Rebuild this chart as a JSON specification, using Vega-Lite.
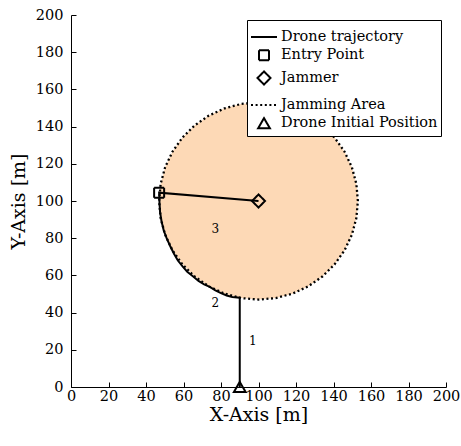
{
  "$schema": "https://vega.github.io/schema/vega-lite/v6.json",
  "width": 375,
  "height": 372,
  "autosize": {"type": "none"},
  "padding": {"left": 71, "top": 15, "right": 15, "bottom": 59},
  "background": "white",
  "config": {
    "font": "DejaVu Serif",
    "view": {"stroke": null},
    "axis": {
      "domainColor": "black", "tickColor": "black", "labelColor": "black", "titleColor": "black",
      "grid": false, "labelFont": "DejaVu Serif", "titleFont": "DejaVu Serif",
      "labelFontSize": 14.5, "titleFontSize": 19, "titleFontWeight": "normal",
      "tickSize": -5, "domainWidth": 1, "tickWidth": 1, "labelOverlap": false, "labelBound": false, "labelFlush": false
    },
    "legend": {
      "labelFont": "DejaVu Serif", "labelFontSize": 14.5, "labelColor": "black", "labelLimit": 300
    }
  },
  "datasets": {
    "area": [
      {"x": 153, "y": 100, "y2v": 100},
      {"x": 152.8, "y": 104.62, "y2v": 95.38},
      {"x": 152.19, "y": 109.2, "y2v": 90.8},
      {"x": 149.8, "y": 118.13, "y2v": 81.87},
      {"x": 145.9, "y": 126.5, "y2v": 73.5},
      {"x": 140.6, "y": 134.07, "y2v": 65.93},
      {"x": 134.07, "y": 140.6, "y2v": 59.4},
      {"x": 126.5, "y": 145.9, "y2v": 54.1},
      {"x": 118.13, "y": 149.8, "y2v": 50.2},
      {"x": 109.2, "y": 152.19, "y2v": 47.81},
      {"x": 100, "y": 153, "y2v": 47},
      {"x": 90.8, "y": 152.19, "y2v": 47.81},
      {"x": 81.87, "y": 149.8, "y2v": 50.2},
      {"x": 73.5, "y": 145.9, "y2v": 54.1},
      {"x": 65.93, "y": 140.6, "y2v": 59.4},
      {"x": 59.4, "y": 134.07, "y2v": 65.93},
      {"x": 54.1, "y": 126.5, "y2v": 73.5},
      {"x": 50.2, "y": 118.13, "y2v": 81.87},
      {"x": 47.81, "y": 109.2, "y2v": 90.8},
      {"x": 47.2, "y": 104.62, "y2v": 95.38},
      {"x": 47, "y": 100, "y2v": 100}
    ],
    "ring": [
      {"i": 0, "x": 153, "y": 100},
      {"i": 1, "x": 152.19, "y": 109.2},
      {"i": 2, "x": 149.8, "y": 118.13},
      {"i": 3, "x": 145.9, "y": 126.5},
      {"i": 4, "x": 140.6, "y": 134.07},
      {"i": 5, "x": 134.07, "y": 140.6},
      {"i": 6, "x": 126.5, "y": 145.9},
      {"i": 7, "x": 118.13, "y": 149.8},
      {"i": 8, "x": 109.2, "y": 152.19},
      {"i": 9, "x": 100, "y": 153},
      {"i": 10, "x": 90.8, "y": 152.19},
      {"i": 11, "x": 81.87, "y": 149.8},
      {"i": 12, "x": 73.5, "y": 145.9},
      {"i": 13, "x": 65.93, "y": 140.6},
      {"i": 14, "x": 59.4, "y": 134.07},
      {"i": 15, "x": 54.1, "y": 126.5},
      {"i": 16, "x": 50.2, "y": 118.13},
      {"i": 17, "x": 47.81, "y": 109.2},
      {"i": 18, "x": 47, "y": 100},
      {"i": 19, "x": 47.81, "y": 90.8},
      {"i": 20, "x": 50.2, "y": 81.87},
      {"i": 21, "x": 54.1, "y": 73.5},
      {"i": 22, "x": 59.4, "y": 65.93},
      {"i": 23, "x": 65.93, "y": 59.4},
      {"i": 24, "x": 73.5, "y": 54.1},
      {"i": 25, "x": 81.87, "y": 50.2},
      {"i": 26, "x": 90.8, "y": 47.81},
      {"i": 27, "x": 100, "y": 47},
      {"i": 28, "x": 109.2, "y": 47.81},
      {"i": 29, "x": 118.13, "y": 50.2},
      {"i": 30, "x": 126.5, "y": 54.1},
      {"i": 31, "x": 134.07, "y": 59.4},
      {"i": 32, "x": 140.6, "y": 65.93},
      {"i": 33, "x": 145.9, "y": 73.5},
      {"i": 34, "x": 149.8, "y": 81.87},
      {"i": 35, "x": 152.19, "y": 90.8},
      {"i": 36, "x": 153, "y": 100}
    ],
    "traj": [
      {"i": 0, "x": 90, "y": 0},
      {"i": 1, "x": 90, "y": 48},
      {"i": 2, "x": 86, "y": 48.4},
      {"i": 3, "x": 83, "y": 49.2},
      {"i": 4, "x": 80, "y": 50.5},
      {"i": 5, "x": 77, "y": 52},
      {"i": 6, "x": 74, "y": 53.8},
      {"i": 7, "x": 71, "y": 55.2},
      {"i": 8, "x": 68, "y": 57},
      {"i": 9, "x": 65, "y": 59.5},
      {"i": 10, "x": 62, "y": 62},
      {"i": 11, "x": 59.5, "y": 64.8},
      {"i": 12, "x": 57, "y": 68},
      {"i": 13, "x": 55, "y": 71.5},
      {"i": 14, "x": 53, "y": 75.5},
      {"i": 15, "x": 51, "y": 80},
      {"i": 16, "x": 49.5, "y": 84},
      {"i": 17, "x": 48.3, "y": 89},
      {"i": 18, "x": 47.5, "y": 94},
      {"i": 19, "x": 47.2, "y": 99},
      {"i": 20, "x": 47, "y": 104.5},
      {"i": 21, "x": 100, "y": 100}
    ],
    "pts": [
      {"x": 47, "y": 104.5, "series": "Entry Point"},
      {"x": 100, "y": 100, "series": "Jammer"},
      {"x": 90, "y": 0, "series": "Drone Initial Position"}
    ],
    "labels": [
      {"x": 97, "y": 25, "label": "1"},
      {"x": 77, "y": 45, "label": "2"},
      {"x": 77, "y": 85, "label": "3"}
    ]
  },
  "encoding": {
    "x": {
      "field": "x", "type": "quantitative",
      "scale": {"domain": [0, 200], "nice": false, "zero": false},
      "axis": {"title": "X-Axis [m]", "values": [0,20,40,60,80,100,120,140,160,180,200], "labelPadding": 7, "titlePadding": 3}
    },
    "y": {
      "field": "y", "type": "quantitative",
      "scale": {"domain": [0, 200], "nice": false, "zero": false},
      "axis": {"title": "Y-Axis [m]", "values": [0,20,40,60,80,100,120,140,160,180,200], "labelPadding": 13, "titlePadding": 7}
    }
  },
  "layer": [
    {
      "data": {"name": "area"},
      "mark": {"type": "area", "color": "#fdd9b6", "opacity": 1},
      "encoding": {"y2": {"field": "y2v"}}
    },
    {
      "data": {"name": "ring"},
      "mark": {"type": "line", "color": "black", "strokeWidth": 2.3, "strokeDash": [2, 2.6]},
      "encoding": {"order": {"field": "i", "type": "quantitative"}}
    },
    {
      "data": {"name": "traj"},
      "mark": {"type": "line", "color": "black", "strokeWidth": 2},
      "encoding": {"order": {"field": "i", "type": "quantitative"}}
    },
    {
      "data": {"name": "pts"},
      "mark": {"type": "point", "filled": false, "color": "black", "strokeWidth": 2, "opacity": 1},
      "encoding": {
        "shape": {
          "field": "series", "type": "nominal",
          "scale": {
            "domain": ["Drone trajectory", "Entry Point", "Jammer", "Jamming Area", "Drone Initial Position"],
            "range": ["stroke", "square", "diamond", "stroke", "triangle-up"]
          },
          "legend": {
            "title": null, "orient": "top-right", "offset": 5,
            "fillColor": "white", "strokeColor": "black", "padding": 3,
            "symbolStrokeWidth": 2, "symbolStrokeColor": "black",
            "symbolFillColor": "transparent", "rowPadding": 2, "labelOffset": 3, "labelLimit": 300
          }
        },
        "size": {
          "field": "series", "type": "nominal",
          "scale": {
            "type": "ordinal",
            "domain": ["Drone trajectory", "Entry Point", "Jammer", "Jamming Area", "Drone Initial Position"],
            "range": [676, 100, 170, 676, 140]
          },
          "legend": {
            "title": null, "orient": "top-right", "offset": 5,
            "fillColor": "white", "strokeColor": "black", "padding": 3,
            "symbolStrokeWidth": 2, "symbolStrokeColor": "black",
            "symbolFillColor": "transparent", "rowPadding": 2, "labelOffset": 3, "labelLimit": 300
          }
        },
        "strokeDash": {
          "field": "series", "type": "nominal",
          "scale": {
            "domain": ["Drone trajectory", "Entry Point", "Jammer", "Jamming Area", "Drone Initial Position"],
            "range": [[1, 0], [1, 0], [1, 0], [2, 2.6], [1, 0]]
          },
          "legend": {
            "title": null, "orient": "top-right", "offset": 5,
            "fillColor": "white", "strokeColor": "black", "padding": 3,
            "symbolStrokeWidth": 2, "symbolStrokeColor": "black",
            "symbolFillColor": "transparent", "rowPadding": 2, "labelOffset": 3, "labelLimit": 300
          }
        }
      }
    },
    {
      "data": {"name": "labels"},
      "mark": {"type": "text", "font": "DejaVu Serif", "fontSize": 12, "color": "black"},
      "encoding": {"text": {"field": "label"}}
    }
  ]
}
